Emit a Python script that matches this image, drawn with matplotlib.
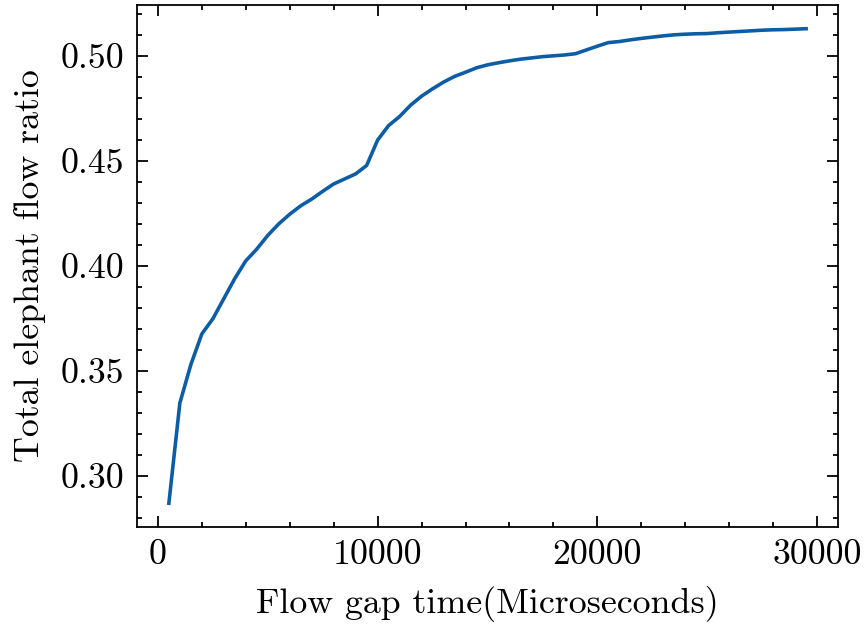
import matplotlib
matplotlib.use("Agg")
import matplotlib.pyplot as plt

gap_time = [500, 1000, 1500, 2000, 2500, 3000, 3500, 4000, 4500, 5000, 5500, 6000,
            6500, 7000, 7500, 8000, 8500, 9000, 9500, 10000, 10500, 11000, 11500,
            12000, 12500, 13000, 13500, 14000, 14500, 15000, 15500, 16000, 16500,
            17000, 17500, 18000, 18500, 19000, 19500, 20000, 20500, 21000, 21500,
            22000, 22500, 23000, 23500, 24000, 24500, 25000, 25500, 26000, 26500,
            27000, 27500, 28000, 28500, 29000, 29500]
elephant_ratio = [0.287, 0.3347, 0.353, 0.3676, 0.3748, 0.3844, 0.394, 0.4024, 0.408,
                  0.4145, 0.420, 0.4246, 0.4286, 0.4318, 0.4355, 0.439, 0.4414, 0.4438,
                  0.4478, 0.4599, 0.4668, 0.4711, 0.4765, 0.4808, 0.4843, 0.4875,
                  0.4902, 0.4922, 0.4943, 0.4957, 0.4967, 0.4976, 0.4984, 0.4990,
                  0.4996, 0.5000, 0.5004, 0.5010, 0.5028, 0.5046, 0.5063, 0.5068,
                  0.5076, 0.5083, 0.5089, 0.5095, 0.5100, 0.5103, 0.5105, 0.5106,
                  0.5110, 0.5113, 0.5116, 0.5119, 0.5122, 0.5124, 0.5125, 0.5127, 0.5129]

plt.rcParams.update({
    "font.family": "serif",
    "font.serif": ["cmr10"],
    "mathtext.fontset": "cm",
    "axes.formatter.use_mathtext": True,
    "font.size": 10,
    "xtick.direction": "in",
    "ytick.direction": "in",
    "xtick.major.size": 3,
    "ytick.major.size": 3,
    "xtick.major.width": 0.5,
    "ytick.major.width": 0.5,
    "xtick.minor.size": 1.5,
    "ytick.minor.size": 1.5,
    "xtick.minor.width": 0.5,
    "ytick.minor.width": 0.5,
    "xtick.minor.visible": True,
    "ytick.minor.visible": True,
    "xtick.top": True,
    "ytick.right": True,
    "axes.linewidth": 0.5,
    "lines.linewidth": 1.0,
})

dpi = 258
fig = plt.figure(figsize=(865 / dpi, 624 / dpi), dpi=dpi)
ax = fig.add_axes([137 / 865, 1 - 527 / 624, (838 - 137) / 865, (527 - 5) / 624])
ax.plot(gap_time, elephant_ratio, color="#0C5DA5")
ax.set_xlabel("Flow gap time(Microseconds)")
ax.set_ylabel("Total elephant flow ratio")
ax.set_xticks([0, 10000, 20000, 30000])
ax.set_yticks([0.30, 0.35, 0.40, 0.45, 0.50])
ax.set_yticklabels(["0.30", "0.35", "0.40", "0.45", "0.50"])
ax.set_xticklabels(["0", "10000", "20000", "30000"])
fig.savefig("out.png", dpi=dpi)
